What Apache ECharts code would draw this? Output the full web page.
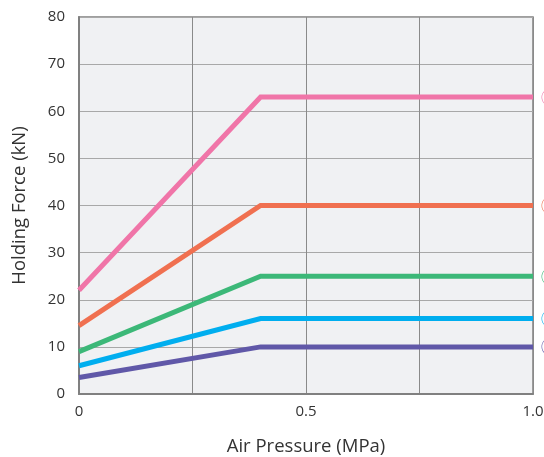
<!DOCTYPE html>
<html><head><meta charset="utf-8">
<script src="https://cdn.jsdelivr.net/npm/echarts@6/dist/echarts.min.js"></script>
<style>html,body{margin:0;padding:0;background:#fff}#c{width:544px;height:457px}</style>
</head><body><div id="c"></div>
<script>
const pressure = [0, 0.4, 1.0];
const seriesNames = ['⑤', '④', '③', '②', '①'];
const pinkValues = [22, 63, 63];
const orangeValues = [14.5, 40, 40];
const greenValues = [9, 25, 25];
const blueValues = [6, 16, 16];
const purpleValues = [3.5, 10, 10];
const colors = ['#F075A8', '#F07050', '#3CB878', '#00AEEF', '#6058A8'];
const allValues = [pinkValues, orangeValues, greenValues, blueValues, purpleValues];
const xTickLabels = {0: '0', 0.5: '0.5', 1: '1.0'};

const chart = echarts.init(document.getElementById('c'));
const font = 'Open Sans, Noto Sans, sans-serif';
chart.setOption({
  animation: false,
  grid: {left: 79, right: 11, top: 17, bottom: 63, outerBoundsMode: 'none', containLabel: false,
    show: true, backgroundColor: '#F0F1F3', borderWidth: 1.5, borderColor: '#808080'},
  xAxis: {
    type: 'value', min: 0, max: 1, interval: 0.25,
    name: 'Air Pressure (MPa)', nameLocation: 'middle', nameGap: 43,
    nameTextStyle: {fontFamily: font, fontSize: 18.5, color: '#333'},
    axisLine: {show: true, lineStyle: {color: '#808080', width: 2}},
    axisTick: {show: false},
    axisLabel: {fontFamily: font, fontSize: 15, color: '#333', margin: 10,
      formatter: v => (xTickLabels[v] !== undefined ? xTickLabels[v] : ''), showMaxLabel: true},
    splitLine: {show: true, lineStyle: {color: '#8a8a8a', width: 1}}
  },
  yAxis: {
    type: 'value', min: 0, max: 80, interval: 10,
    name: 'Holding Force (kN)', nameLocation: 'middle', nameGap: 50,
    nameTextStyle: {fontFamily: font, fontSize: 18.5, color: '#333'},
    axisLine: {show: true, lineStyle: {color: '#808080', width: 2}},
    axisTick: {show: false},
    axisLabel: {fontFamily: font, fontSize: 15, color: '#333', margin: 14},
    splitLine: {show: true, lineStyle: {color: '#a8a8a8', width: 1}}
  },
  series: allValues.map((vals, i) => ({
    type: 'line', name: seriesNames[i],
    data: vals.map((v, j) => [pressure[j], v]),
    symbol: 'none', clip: false,
    lineStyle: {color: colors[i], width: 5, cap: 'butt', join: 'miter'},
    endLabel: {show: true, formatter: seriesNames[i], color: colors[i], fontFamily: 'Noto Sans CJK JP', fontSize: 17, distance: 8, align: 'left'},
    z: 3
  }))
});
</script></body></html>
